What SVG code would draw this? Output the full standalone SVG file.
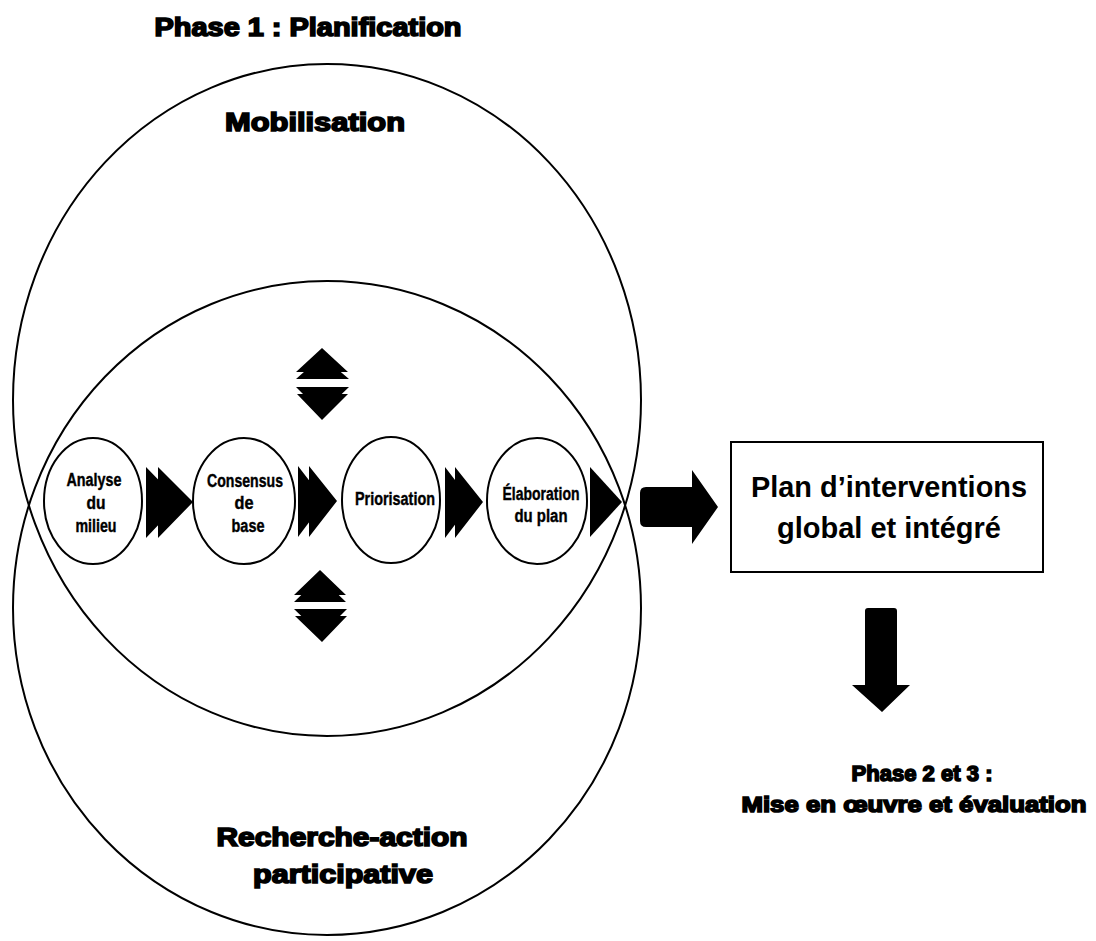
<svg xmlns="http://www.w3.org/2000/svg" width="1096" height="941" viewBox="0 0 1096 941">
<style>
.bg{fill:#fff}
.ring{fill:none;stroke:#000;stroke-width:2}
.node{fill:#fff;stroke:#000;stroke-width:2}
.heavy{font-family:"Liberation Sans",Arial,sans-serif;font-weight:bold;fill:#000;stroke:#000;stroke-width:1.6;text-anchor:middle}
.small{font-family:"Liberation Sans",Arial,sans-serif;font-weight:bold;font-size:18px;fill:#000;stroke:#000;stroke-width:0.4;text-anchor:middle}
.big{font-family:"Liberation Sans",Arial,sans-serif;font-weight:bold;font-size:29px;fill:#000;text-anchor:middle}
.solid{fill:#000;stroke:none}
</style>
<rect class="bg" x="0" y="0" width="1096" height="941"/>

<g id="titles">
<text class="heavy" x="308" y="36" font-size="25" textLength="307" lengthAdjust="spacingAndGlyphs">Phase 1 : Planification</text>
</g>

<g id="mobilisation">
<ellipse class="ring" cx="327" cy="400" rx="314" ry="336"/>
<text class="heavy" x="315" y="131" font-size="25" textLength="180" lengthAdjust="spacingAndGlyphs">Mobilisation</text>
</g>

<g id="recherche-action">
<ellipse class="ring" cx="327" cy="608" rx="314" ry="327"/>
<text class="heavy" x="342" y="846" font-size="25" textLength="251" lengthAdjust="spacingAndGlyphs">Recherche-action</text>
<text class="heavy" x="343" y="883" font-size="25" textLength="180" lengthAdjust="spacingAndGlyphs">participative</text>
</g>

<g id="analyse">
<ellipse class="node" cx="93" cy="501" rx="49" ry="63"/>
<text class="small" x="94" y="486" textLength="55" lengthAdjust="spacingAndGlyphs">Analyse</text>
<text class="small" x="96" y="509" textLength="19" lengthAdjust="spacingAndGlyphs">du</text>
<text class="small" x="96" y="532" textLength="41" lengthAdjust="spacingAndGlyphs">milieu</text>
</g>

<g id="consensus">
<ellipse class="node" cx="244" cy="501" rx="51" ry="63"/>
<text class="small" x="245" y="487" textLength="76" lengthAdjust="spacingAndGlyphs">Consensus</text>
<text class="small" x="244" y="509" textLength="19" lengthAdjust="spacingAndGlyphs">de</text>
<text class="small" x="248" y="532" textLength="33" lengthAdjust="spacingAndGlyphs">base</text>
</g>

<g id="priorisation">
<ellipse class="node" cx="391" cy="500" rx="49" ry="63"/>
<text class="small" x="395" y="505" textLength="80" lengthAdjust="spacingAndGlyphs">Priorisation</text>
</g>

<g id="elaboration">
<ellipse class="node" cx="537" cy="501" rx="50" ry="63"/>
<text class="small" x="541" y="500" textLength="77" lengthAdjust="spacingAndGlyphs">Élaboration</text>
<text class="small" x="541" y="522" textLength="53" lengthAdjust="spacingAndGlyphs">du plan</text>
</g>

<g id="plan">
<rect x="731" y="442" width="312" height="130" fill="#fff" stroke="#000" stroke-width="2"/>
<text class="big" x="889" y="497" textLength="276" lengthAdjust="spacingAndGlyphs">Plan d’interventions</text>
<text class="big" x="889" y="538">global et intégré</text>
</g>

<g id="phase23">
<text class="heavy" x="922" y="781" font-size="22" textLength="141" lengthAdjust="spacingAndGlyphs">Phase 2 et 3 :</text>
<text class="heavy" x="914" y="812" font-size="22" textLength="345" lengthAdjust="spacingAndGlyphs">Mise en œuvre et évaluation</text>
</g>

<g id="connectors">
<path class="solid" d="M146,467 L146,538 L180,502 Z M158,467 L158,538 L193,502 Z"/>
<path class="solid" d="M298,466 L298,537 L325,501 Z M309,466 L309,537 L337,501 Z"/>
<path class="solid" d="M445,467 L445,538 L472,502 Z M455,467 L455,538 L483,502 Z"/>
<path class="solid" d="M590,467 L590,537 L622,502 Z"/>
<path class="solid" d="M322,348 L348,372 L296,372 Z M322,356 L349,379 L296,379 Z"/>
<path class="solid" d="M296,387 L349,387 L322,413 Z M297,394 L348,394 L322,420 Z"/>
<path class="solid" d="M320,570 L346,595 L294,595 Z M320,577 L346,602 L294,602 Z"/>
<path class="solid" d="M294,609 L347,609 L321,635 Z M295,616 L347,616 L322,642 Z"/>
<path class="solid" d="M646,487 L692,487 L692,470 L718,507 L692,544 L692,527 L646,527 Q640,527 640,521 L640,493 Q640,487 646,487 Z"/>
<path class="solid" d="M868,608 L894,608 Q897,608 897,611 L897,685 L910,685 L882,712 L852,685 L865,685 L865,611 Q865,608 868,608 Z"/>
</g>
</svg>
